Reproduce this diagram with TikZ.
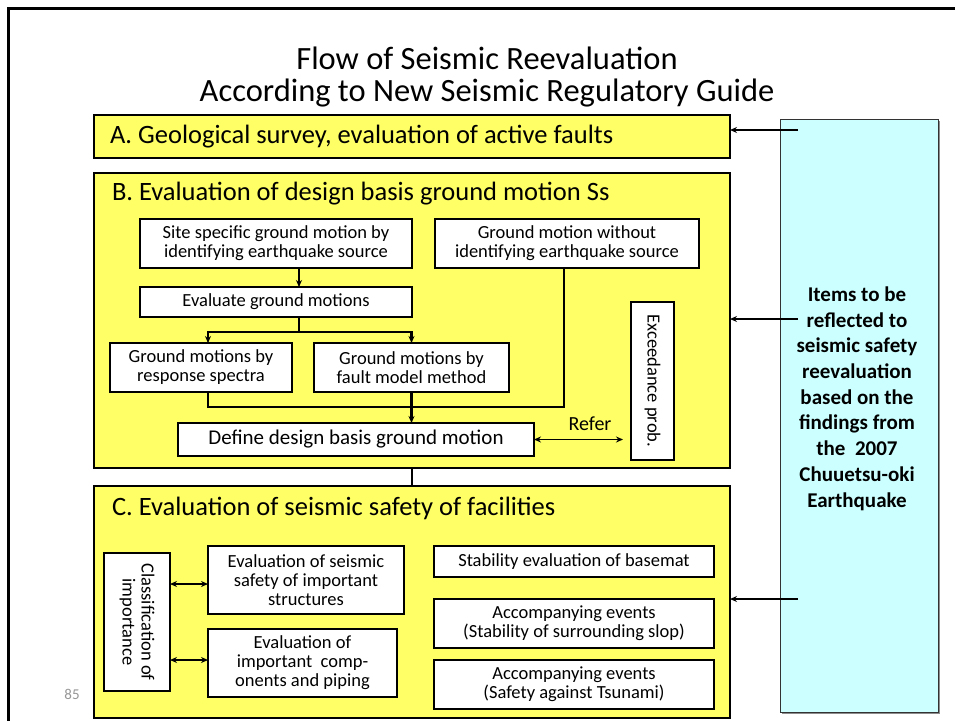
\documentclass[tikz,border=0pt]{standalone}
\usepackage{fontspec}
\setmainfont{Carlito}
\usetikzlibrary{arrows.meta,calc}
\definecolor{panelfill}{RGB}{255,255,102}
\definecolor{notefill}{RGB}{204,255,255}
\definecolor{pagegray}{RGB}{150,150,150}
\begin{document}
\begin{tikzpicture}[x=1pt,y=-1pt,
  every node/.style={inner sep=0pt, outer sep=0pt},
  panel/.style={draw=black, line width=1.2pt, fill=panelfill},
  wbox/.style={draw=black, line width=1.2pt, fill=white, align=center,
    font=\fontsize{18.5}{19}\selectfont},
  head/.style={font=\fontsize{26.5}{30}\selectfont},
  tip/.tip={Stealth[length=7pt,width=6pt]},
  heavy/.style={line width=2.8pt},
  medium/.style={line width=1.8pt},
]
\useasboundingbox (0,0) rectangle (955,720);

% slide frame
\draw[line width=3pt] (8,721) -- (8,8) -- (956,8);

% title
\node[align=center, font=\fontsize{32.5}{32}\selectfont] (title) at (487,77)
  {Flow of Seismic Reevaluation\\According to New Seismic Regulatory Guide};

% stage panels
\node[panel, minimum width=636pt, minimum height=43pt] (A) at (412,136.5) {};
\node[head, anchor=west] (At) at (110,137) {A. Geological survey, evaluation of active faults};
\node[panel, minimum width=636pt, minimum height=295pt] (B) at (412,320.5) {};
\node[head, anchor=west] (Bt) at (112,194) {B. Evaluation of design basis ground motion Ss};
\node[panel, minimum width=636pt, minimum height=232pt] (C) at (412,602) {};
\node[head, anchor=west] (Ct) at (112,508) {C. Evaluation of seismic safety of facilities};

% side note
\fill[black!45] (782,121) rectangle (940,714);
\node[draw=black!80, line width=1pt, fill=notefill, minimum width=158pt, minimum height=593pt]
  (N) at (859,415.5) {};
\node[align=center, font=\bfseries\fontsize{21}{25.7}\selectfont] (Nt) at (857,398.5)
  {Items to be\\reflected to\\seismic safety\\reevaluation\\based on the\\findings from\\the\ \ 2007\\Chuuetsu-oki\\Earthquake};
\coordinate (n1) at (798,130);
\coordinate (n2) at (798,319);
\coordinate (n3) at (798,599);
\draw[medium,-tip] (n1) -- (n1 -| A.east);
\draw[medium,-tip] (n2) -- (n2 -| B.east);
\draw[medium,-tip] (n3) -- (n3 -| C.east);

% stage B contents
\node[wbox, minimum width=272pt, minimum height=49pt] (site) at (276,243.5)
  {Site specific ground motion by\\identifying earthquake source};
\node[wbox, minimum width=264pt, minimum height=49pt] (without) at (567,243.5)
  {Ground motion without\\identifying earthquake source};
\node[wbox, minimum width=272pt, minimum height=30pt] (evalgm) at (276,302)
  {Evaluate ground motions};
\node[wbox, minimum width=182pt, minimum height=49pt] (resp) at (201,367.5)
  {Ground motions by\\response spectra};
\node[wbox, minimum width=195pt, minimum height=49pt] (fault) at (411.5,367.5)
  {Ground motions by\\fault model method};
\node[wbox, minimum width=356pt, minimum height=33pt, font=\fontsize{21}{24}\selectfont]
  (define) at (356,439.5) {Define design basis ground motion};
\node[wbox, rotate=-90, minimum width=158pt, minimum height=43pt] (exceed) at (652.5,381)
  {Exceedance prob.};
\node[font=\fontsize{20}{24}\selectfont] (refer) at (590,424) {Refer};

\draw[medium,-tip] ([xshift=23pt]site.south) -- ([xshift=23pt]evalgm.north);
\draw[heavy] ([xshift=23pt]evalgm.south) -- ++(0,15) coordinate (j1);
\draw[heavy,-tip] (j1) -| ([xshift=7pt]resp.north);
\draw[heavy,-tip] (j1) -| (fault.north);
\draw[heavy] ([xshift=7pt]resp.south) -- ++(0,15) -| ([xshift=-3pt]without.south);
\draw[heavy,-tip] (fault.south) -- (fault.south |- define.north);
\coordinate (rf) at (623,439.5);
\draw[medium,tip-tip] (define.east) -- (rf);

% link between stages B and C
\draw[heavy] (B.south) -- (C.north);

% stage C contents
\node[wbox, rotate=-90, minimum width=138pt, minimum height=66pt] (classif) at (137,622)
  {Classification of\\importance};
\node[wbox, minimum width=196pt, minimum height=68pt] (evalsafe) at (306,580)
  {Evaluation of seismic\\safety of important\\structures};
\node[wbox, minimum width=189pt, minimum height=68pt] (evalcomp) at (302.5,663)
  {Evaluation of\\important\ \ comp-\\onents and piping};
\node[wbox, minimum width=280pt, minimum height=31pt] (basemat) at (574,561.5)
  {Stability evaluation of basemat};
\node[wbox, minimum width=280pt, minimum height=49pt] (slop) at (574,623.5)
  {Accompanying events\\(Stability of surrounding slop)};
\node[wbox, minimum width=280pt, minimum height=49pt] (tsunami) at (574,684.5)
  {Accompanying events\\(Safety against Tsunami)};
\coordinate (c1) at (170,584);
\coordinate (c2) at (170,660);
\draw[medium,tip-tip] (c1) -- (c1 -| evalsafe.west);
\draw[medium,tip-tip] (c2) -- (c2 -| evalcomp.west);

% page number
\node[text=pagegray, font=\fontsize{15}{18}\selectfont] (pg) at (72,694) {85};
\end{tikzpicture}
\end{document}
